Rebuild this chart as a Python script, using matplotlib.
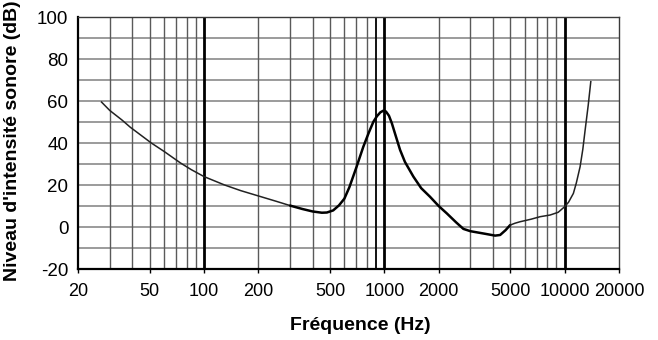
import matplotlib
matplotlib.use("Agg")
import matplotlib.pyplot as plt
from matplotlib.ticker import FixedLocator, NullLocator, NullFormatter

plt.rcParams["font.family"] = ["Liberation Sans", "DejaVu Sans"]

# Hearing threshold curve (frequency in Hz, level in dB)
freq = [27, 30, 35, 39, 45, 51, 60, 74, 85, 100, 130, 160, 200, 250, 300,
        350, 400, 450, 480, 520, 560, 600, 640, 700, 764, 820, 869, 910,
        950, 987, 1020, 1060, 1100, 1150, 1222, 1300, 1448, 1600, 1791,
        2000, 2218, 2500, 2742, 3000, 3600, 4111, 4384, 4700, 4980, 5300,
        5652, 6500, 7300, 8296, 9200, 10000, 10500, 11170, 11600, 12170,
        12600, 12980, 13500, 13950]
level = [59.5, 55.5, 51.0, 47.5, 43.5, 40.0, 36.0, 30.5, 27.3, 24.0, 20.0,
         17.3, 14.8, 12.3, 10.2, 8.6, 7.4, 6.8, 6.9, 7.9, 10.3, 13.5, 19.0,
         28.5, 38.2, 45.0, 50.1, 52.8, 54.6, 55.4, 55.0, 53.0, 49.4, 44.0,
         36.7, 31.0, 24.0, 18.5, 14.4, 10.0, 6.5, 2.2, -0.9, -2.0, -3.2,
         -4.1, -3.8, -1.5, 0.9, 1.8, 2.5, 3.7, 4.9, 5.7, 7.0, 9.7, 11.8,
         16.0, 21.0, 28.7, 37.0, 46.2, 58.0, 69.2]

x_ticks = [20, 50, 100, 200, 500, 1000, 2000, 5000, 10000, 20000]
y_ticks = [-20, 0, 20, 40, 60, 80, 100]
minor_x = [f * d for d in (10, 100, 1000) for f in range(2, 10)] + [20, 30]
major_x = [100, 1000, 10000]

fig = plt.figure(figsize=(6.58, 3.40), dpi=100)
ax = fig.add_axes([78 / 658, 1 - 269 / 340, 541 / 658, 252 / 340])

ax.set_xscale("log")
ax.set_xlim(20, 20000)
ax.set_ylim(-20, 100)

# grid drawn by hand so the decade lines can be heavier
for y in range(-10, 100, 10):
    ax.axhline(y, color="#8a8a8a", lw=1.2, zorder=1)
for f in sorted(set(minor_x)):
    if f in (20, 900) or f in major_x:
        continue
    ax.axvline(f, color="#5a5a5a", lw=1.0, zorder=1)
ax.axvline(900, color="black", lw=1.3, zorder=2)
for f in major_x:
    ax.axvline(f, color="black", lw=2.0, zorder=2)

# curve: thinner at both ends, heavier through the middle
i_a = freq.index(300)
i_b = freq.index(4980)
ax.plot(freq[:i_a + 1], level[:i_a + 1], color="#222222", lw=1.1, zorder=3)
ax.plot(freq[i_a:i_b + 1], level[i_a:i_b + 1], color="black", lw=1.8,
        zorder=3, solid_capstyle="round", solid_joinstyle="round")
ax.plot(freq[i_b:], level[i_b:], color="#222222", lw=1.1, zorder=3)

ax.xaxis.set_major_locator(FixedLocator(x_ticks))
ax.xaxis.set_minor_locator(NullLocator())
ax.xaxis.set_minor_formatter(NullFormatter())
ax.set_xticklabels([str(t) for t in x_ticks])
ax.set_yticks(y_ticks)
ax.set_yticklabels([str(t) for t in y_ticks])
ax.tick_params(axis="x", length=3, width=1, pad=7, labelsize=13)
ax.tick_params(axis="y", length=0, pad=7, labelsize=13.5)

for side in ("left", "bottom"):
    ax.spines[side].set_linewidth(1.6)
    ax.spines[side].set_color("black")
for side in ("top", "right"):
    ax.spines[side].set_linewidth(1.0)
    ax.spines[side].set_color("#3a3a3a")

fig.text(360 / 658, 1 - 326 / 340, "Fréquence (Hz)", ha="center",
         va="center", fontsize=14, fontweight="bold")
fig.text(13 / 658, 1 - 141 / 340, "Niveau d'intensité sonore (dB)",
         ha="center", va="center", rotation=90, fontsize=14,
         fontweight="bold")

fig.savefig("out.png", dpi=100)
